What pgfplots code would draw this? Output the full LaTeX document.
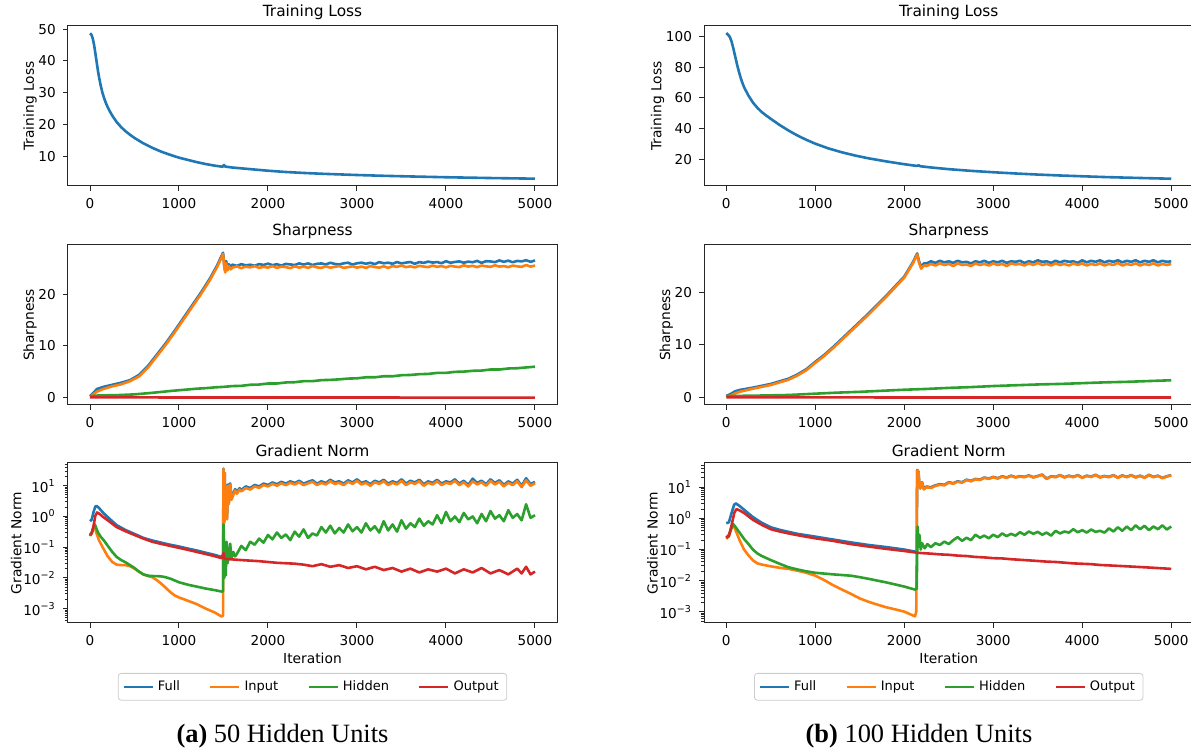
\documentclass[border=0pt]{standalone}
\usepackage{fontspec}
\setmainfont{DejaVu Sans}
\newfontfamily\capfont{Liberation Serif}
\usepackage{pgfplots}
\pgfplotsset{compat=1.18}
\definecolor{cA}{HTML}{1F77B4}
\definecolor{cB}{HTML}{FF7F0E}
\definecolor{cC}{HTML}{2CA02C}
\definecolor{cD}{HTML}{D62728}
\definecolor{lgray}{HTML}{CCCCCC}
\pgfplotsset{
  base/.style={
    scale only axis, width=244.75pt, height=80pt,
    xmin=-250, xmax=5250,
    xtick={0,1000,2000,3000,4000,5000},
    tick align=outside, tick pos=left,
    major tick length=2.5pt, minor tick length=1.4pt,
    axis line style={line width=0.5pt, black!85},
    every tick/.style={black!85, line width=0.5pt},
    ticklabel style={font=\fontsize{6.8}{8}\selectfont},
    /pgf/number format/assume math mode=true,
    /pgf/number format/1000 sep={},
    scaled y ticks=false,
    every axis title shift=-0.6pt,
    title style={font=\fontsize{7.7}{9}\selectfont},
    ylabel style={font=\fontsize{6.9}{8}\selectfont},
    ylabel shift=-6pt,
    xlabel style={font=\fontsize{6.9}{8}\selectfont, yshift=3pt},
    no markers,
    every axis plot/.append style={line width=1.3pt, line join=round},
  },
  gn/.style={
    base, ymin=3.4e-4, ymax=55,
    ytick={1e-3,1e-2,1e-1,1,10},
    yticklabels={10\textsuperscript{−3},10\textsuperscript{−2},10\textsuperscript{−1},10\textsuperscript{0},10\textsuperscript{1}},
    minor ytick={4e-4,5e-4,6e-4,7e-4,8e-4,9e-4,2e-3,3e-3,4e-3,5e-3,6e-3,7e-3,8e-3,9e-3,0.02,0.03,0.04,0.05,0.06,0.07,0.08,0.09,0.2,0.3,0.4,0.5,0.6,0.7,0.8,0.9,2,3,4,5,6,7,8,9,20,30,40,50},
    title={Gradient Norm}, ylabel={Gradient Norm}, xlabel={Iteration},
    legend columns=4,
    legend style={at={(0.5,-0.3125)}, anchor=north, draw=lgray, rounded corners=1.5pt,
      font=\fontsize{6.5}{7.5}\selectfont, inner xsep=2pt, inner ysep=1.5pt,
      /tikz/every even column/.append style={column sep=12.5pt}},
    legend image code/.code={\draw[#1, line width=1.3pt] (0pt,0pt) -- (14.5pt,0pt);},
  },
}
\begin{document}
\begin{tikzpicture}
\useasboundingbox (0,0) rectangle (595.5pt,-374pt);

% ================= LEFT: 50 hidden units =================
\begin{axis}[base, at={(33.875pt,-13pt)}, anchor=north west,
  ymin=0.7, ymax=51, ytick={10,20,30,40,50},
  title={Training Loss}, ylabel={Training Loss}]
\addplot[cA] coordinates {(0,48.7) (15,48.3) (30,47.2) (45,45.2) (60,42.5) (75,39.6) (90,36.8) (105,34.4) (120,32.3) (140,30.0) (160,28.2) (180,26.7) (200,25.4) (230,23.8) (260,22.4) (300,20.8) (350,19.2) (400,17.9) (450,16.8) (500,15.8) (600,14.1) (700,12.7) (800,11.5) (900,10.5) (1000,9.6) (1100,8.9) (1200,8.2) (1300,7.6) (1400,7.1) (1490,6.75) (1505,7.3) (1520,6.8) (1600,6.5) (1800,6.0) (2000,5.5) (2200,5.1) (2400,4.8) (2600,4.55) (2800,4.35) (3000,4.15) (3300,3.9) (3600,3.7) (4000,3.45) (4500,3.2) (5000,3.0)};
\end{axis}

\begin{axis}[base, at={(33.875pt,-122.5pt)}, anchor=north west,
  ymin=-1.4, ymax=29.5, ytick={0,10,20},
  title={Sharpness}, ylabel={Sharpness}]
\addplot[cA] coordinates {(0,0.3) (40,1.0) (80,1.7) (150,2.1) (250,2.5) (350,2.9) (450,3.4) (550,4.4) (650,6.1) (750,8.3) (850,10.5) (950,12.9) (1050,15.4) (1150,17.9) (1250,20.4) (1350,23.1) (1430,25.6) (1470,27.1) (1495,28.0) (1510,25.3) (1520,24.6) (1530,26.4) (1545,25.1) (1560,25.8) (1580,25.2)
(1600,25.71) (1650,25.47) (1700,25.80) (1750,25.57) (1800,25.69) (1850,25.49) (1900,25.81) (1950,25.65) (2000,25.90) (2050,25.60) (2100,25.79) (2150,25.52) (2200,25.85) (2250,25.75) (2300,25.62) (2350,25.95) (2400,25.72) (2450,25.94) (2500,25.64) (2550,25.86) (2600,25.94) (2650,25.74) (2700,26.07) (2750,25.84) (2800,25.74) (2850,25.96) (2900,26.08) (2950,25.71) (3000,25.97) (3050,26.08) (3100,25.88) (3150,26.07) (3200,25.80) (3250,26.20) (3300,25.97) (3350,26.08) (3400,25.88) (3450,26.21) (3500,25.94) (3550,26.10) (3600,26.21) (3650,25.87) (3700,26.20) (3750,26.04) (3800,26.30) (3850,26.10) (3900,26.21) (3950,25.98) (4000,26.37) (4050,26.07) (4100,26.22) (4150,26.34) (4200,26.07) (4250,26.29) (4300,26.17) (4350,26.43) (4400,26.05) (4450,26.38) (4500,26.32) (4550,26.19) (4600,26.52) (4650,26.25) (4700,26.47) (4750,26.17) (4800,26.42) (4850,26.33) (4900,26.56) (4950,26.25) (5000,26.51)};
\addplot[cB] coordinates {(0,0.2) (40,0.7) (80,1.2) (150,1.7) (250,2.2) (350,2.6) (450,3.2) (550,4.1) (650,5.8) (750,8.0) (850,10.2) (950,12.6) (1050,15.1) (1150,17.6) (1250,20.1) (1350,22.8) (1430,25.3) (1470,26.8) (1495,27.8) (1510,25.0) (1520,24.2) (1530,26.0) (1545,24.6) (1560,25.4) (1580,24.8)
(1600,25.13) (1650,25.38) (1700,25.03) (1750,25.33) (1800,25.18) (1850,25.43) (1900,25.08) (1950,25.28) (2000,25.13) (2050,25.43) (2100,25.08) (2150,25.33) (2200,25.23) (2250,25.03) (2300,25.38) (2350,25.13) (2400,25.33) (2450,25.08) (2500,25.43) (2550,25.18) (2600,25.08) (2650,25.38) (2700,25.13) (2750,25.28) (2800,25.43) (2850,25.08) (2900,25.23) (2950,25.38) (3000,25.13) (3050,25.33) (3100,25.08) (3150,25.43) (3200,25.23) (3250,25.13) (3300,25.38) (3350,25.08) (3400,25.43) (3450,25.28) (3500,25.53) (3550,25.23) (3600,25.38) (3650,25.18) (3700,25.48) (3750,25.33) (3800,25.23) (3850,25.53) (3900,25.28) (3950,25.43) (4000,25.18) (4050,25.48) (4100,25.33) (4150,25.23) (4200,25.58) (4250,25.33) (4300,25.48) (4350,25.23) (4400,25.53) (4450,25.38) (4500,25.28) (4550,25.58) (4600,25.33) (4650,25.43) (4700,25.23) (4750,25.53) (4800,25.38) (4850,25.28) (4900,25.63) (4950,25.33) (5000,25.53)};
\addplot[cC] coordinates {(0,0.3) (100,0.45) (300,0.5) (500,0.65) (700,0.95) (900,1.3) (1000,1.45) (1100,1.6) (1200,1.75) (1300,1.85) (1400,2.0) (1500,2.1) (1600,2.25) (1700,2.3) (1800,2.5) (1900,2.55) (2000,2.75) (2100,2.75) (2200,2.95) (2300,3.0) (2400,3.2) (2500,3.2) (2600,3.4) (2700,3.45) (2800,3.55) (2900,3.7) (3000,3.75) (3100,3.95) (3200,3.95) (3300,4.15) (3400,4.15) (3500,4.35) (3600,4.4) (3700,4.55) (3800,4.6) (3900,4.8) (4000,4.8) (4100,5.0) (4200,5.05) (4300,5.2) (4400,5.25) (4500,5.45) (4600,5.45) (4700,5.65) (4800,5.7) (4900,5.85) (5000,6.0)};
\addplot[cD] coordinates {(0,0.08) (1000,0.05) (3000,0.04) (5000,0.03)};
\end{axis}

\begin{semilogyaxis}[gn, at={(33.875pt,-231.5pt)}, anchor=north west]
\addplot[cA] coordinates {(0,0.7) (20,0.8) (40,1.4) (60,2.1) (75,2.2) (100,1.9) (150,1.3) (200,0.95) (250,0.7) (300,0.52) (400,0.36) (500,0.27) (600,0.2) (700,0.165) (800,0.14) (900,0.12) (1000,0.105) (1100,0.09) (1200,0.078) (1300,0.066) (1400,0.056) (1480,0.048) (1495,0.05) (1500,36) (1505,21) (1510,0.7) (1515,26) (1520,1.1) (1530,9) (1540,0.9) (1550,11) (1560,2.8) (1575,12) (1590,4) (1610,5.5) (1630,7.8) (1650,6.2) (1680,8.3) (1700,7.3) (1750,9.5) (1800,8.4) (1850,10.6) (1900,9.5) (1950,11.7) (2000,10.6) (2050,12.8) (2100,11.2) (2150,13.4) (2200,11.7) (2250,13.9) (2300,12.3) (2350,14.5) (2400,11.7) (2450,13.4) (2500,15) (2550,11.7) (2600,13.9) (2650,12.3) (2700,15.6) (2750,12.8) (2800,13.9) (2850,11.7) (2900,15) (2950,12.8) (3000,16.2) (3050,12.3) (3100,13.9) (3150,11.2) (3200,14.5) (3250,12.8) (3300,15.6) (3350,11.7) (3400,13.9) (3450,12.3) (3500,16.2) (3550,11.7) (3600,14.5) (3650,12.8) (3700,15.6) (3750,11.2) (3800,13.9) (3850,12.3) (3900,15.6) (3950,11.7) (4000,13.9) (4050,12.8) (4100,16.2) (4150,11.7) (4200,14.5) (4250,10.6) (4300,17) (4350,12.3) (4400,14.5) (4450,11.2) (4500,16.2) (4550,12.3) (4600,15) (4650,10.6) (4700,13.9) (4750,11.7) (4800,15.6) (4850,10) (4900,17.5) (4950,11.2) (5000,13.4)};
\addlegendentry{Full}
\addplot[cB] coordinates {(0,0.25) (20,0.3) (40,0.42) (55,0.45) (70,0.3) (100,0.17) (150,0.09) (200,0.05) (250,0.033) (300,0.027) (350,0.026) (400,0.026) (450,0.024) (500,0.02) (550,0.016) (600,0.013) (650,0.0115) (700,0.0105) (750,0.0085) (800,0.0065) (850,0.0048) (900,0.0035) (950,0.0027) (1000,0.0023) (1100,0.0018) (1200,0.0014) (1300,0.001) (1400,0.00075) (1480,0.00055) (1495,0.0006) (1500,35) (1505,20) (1510,0.6) (1515,25) (1520,1.0) (1530,8) (1540,0.8) (1550,10) (1560,2.5) (1575,11) (1590,3.5) (1610,5) (1630,7) (1650,5.5) (1680,7.5) (1700,6.5) (1750,8.5) (1800,7.5) (1850,9.5) (1900,8.5) (1950,10.5) (2000,9.5) (2050,11.5) (2100,10) (2150,12) (2200,10.5) (2250,12.5) (2300,11) (2350,13) (2400,10.5) (2450,12) (2500,13.5) (2550,10.5) (2600,12.5) (2650,11) (2700,14) (2750,11.5) (2800,12.5) (2850,10.5) (2900,13.5) (2950,11.5) (3000,14.5) (3050,11) (3100,12.5) (3150,10) (3200,13) (3250,11.5) (3300,14) (3350,10.5) (3400,12.5) (3450,11) (3500,14.5) (3550,10.5) (3600,13) (3650,11.5) (3700,14) (3750,10) (3800,12.5) (3850,11) (3900,14) (3950,10.5) (4000,12.5) (4050,11.5) (4100,14.5) (4150,10.5) (4200,13) (4250,9.5) (4300,14) (4350,11) (4400,13) (4450,10) (4500,14.5) (4550,11) (4600,13.5) (4650,9.5) (4700,12.5) (4750,10.5) (4800,14) (4850,9) (4900,15) (4950,10) (5000,12)};
\addlegendentry{Input}
\addplot[cC] coordinates {(0,0.23) (20,0.3) (40,0.45) (55,0.55) (70,0.42) (90,0.3) (120,0.22) (160,0.16) (200,0.11) (250,0.07) (300,0.048) (350,0.038) (400,0.032) (450,0.026) (500,0.021) (550,0.016) (600,0.013) (650,0.0118) (700,0.0115) (750,0.0114) (800,0.0112) (850,0.0105) (900,0.0095) (950,0.0083) (1000,0.0072) (1100,0.006) (1200,0.0052) (1300,0.0045) (1400,0.004) (1480,0.0036) (1495,0.0037) (1500,0.55) (1505,0.2) (1510,0.01) (1518,0.12) (1525,0.012) (1535,0.15) (1545,0.03) (1560,0.05) (1575,0.13) (1590,0.045) (1610,0.07) (1630,0.05) (1650,0.06) (1700,0.11) (1750,0.08) (1800,0.15) (1850,0.12) (1900,0.19) (1950,0.14) (2000,0.25) (2050,0.18) (2100,0.3) (2150,0.2) (2200,0.26) (2250,0.17) (2300,0.32) (2350,0.22) (2400,0.38) (2450,0.2) (2500,0.28) (2550,0.24) (2600,0.45) (2650,0.3) (2700,0.5) (2750,0.28) (2800,0.42) (2850,0.3) (2900,0.55) (2950,0.33) (3000,0.45) (3050,0.3) (3100,0.6) (3150,0.35) (3200,0.48) (3250,0.3) (3300,0.7) (3350,0.35) (3400,0.55) (3450,0.32) (3500,0.75) (3550,0.4) (3600,0.6) (3650,0.45) (3700,0.85) (3750,0.5) (3800,0.7) (3850,0.55) (3900,1.1) (3950,0.6) (4000,1.4) (4050,0.7) (4100,1.0) (4150,0.65) (4200,1.3) (4250,0.8) (4300,1.0) (4350,0.6) (4400,1.2) (4450,0.7) (4500,1.5) (4550,0.85) (4600,1.1) (4650,0.7) (4700,1.6) (4750,0.9) (4800,1.2) (4850,0.75) (4900,2.5) (4950,0.9) (5000,1.1)};
\addlegendentry{Hidden}
\addplot[cD] coordinates {(0,0.25) (20,0.28) (40,0.5) (60,1.05) (80,1.35) (110,1.2) (150,0.95) (200,0.75) (250,0.58) (300,0.45) (400,0.33) (500,0.25) (600,0.19) (700,0.15) (800,0.128) (900,0.11) (1000,0.095) (1100,0.082) (1200,0.07) (1300,0.06) (1400,0.051) (1480,0.044) (1500,0.065) (1510,0.042) (1550,0.041) (1700,0.038) (1900,0.035) (2100,0.031) (2300,0.029) (2400,0.027) (2500,0.024) (2600,0.028) (2700,0.023) (2800,0.026) (2900,0.021) (3000,0.024) (3100,0.019) (3200,0.023) (3300,0.018) (3400,0.021) (3500,0.016) (3600,0.02) (3700,0.015) (3800,0.019) (3900,0.016) (4000,0.02) (4100,0.014) (4200,0.019) (4300,0.015) (4400,0.021) (4500,0.014) (4600,0.018) (4700,0.013) (4800,0.02) (4850,0.014) (4900,0.023) (4950,0.013) (5000,0.016)};
\addlegendentry{Output}
\end{semilogyaxis}

% ================= RIGHT: 100 hidden units =================
\begin{axis}[base, at={(352pt,-13pt)}, anchor=north west,
  ymin=3.0, ymax=106.6, ytick={20,40,60,80,100},
  title={Training Loss}, ylabel={Training Loss}]
\addplot[cA] coordinates {(0,102) (20,101) (40,99.5) (60,96.5) (80,92) (100,87) (120,82) (140,77.5) (160,73.5) (180,70) (200,67) (250,61.5) (300,57) (350,53.6) (400,50.8) (450,48.6) (500,46.5) (600,42.5) (700,38.9) (800,35.7) (900,32.9) (1000,30.4) (1150,27.3) (1300,24.8) (1450,22.7) (1600,20.9) (1800,18.9) (2000,17.1) (2140,16.0) (2160,16.4) (2180,15.8) (2300,15.0) (2500,13.9) (2750,12.8) (3000,11.9) (3250,11.1) (3500,10.4) (3750,9.8) (4000,9.3) (4250,8.8) (4500,8.4) (4750,8.05) (5000,7.7)};
\end{axis}

\begin{axis}[base, at={(352pt,-122.5pt)}, anchor=north west,
  ymin=-1.4, ymax=29.0, ytick={0,10,20},
  title={Sharpness}, ylabel={Sharpness}]
\addplot[cA] coordinates {(0,0.3) (50,0.7) (100,1.2) (150,1.45) (300,1.9) (500,2.6) (700,3.6) (800,4.4) (900,5.4) (1000,6.8) (1100,8.1) (1200,9.6) (1400,12.8) (1600,16.0) (1800,19.4) (2000,23.0) (2100,25.8) (2145,27.4) (2165,26.0) (2190,24.8) (2220,25.5)
(2250,25.5) (2300,25.9) (2350,25.6) (2400,26.0) (2450,25.7) (2500,25.9) (2550,25.6) (2600,26.0) (2650,25.7) (2700,25.8) (2750,25.5) (2800,25.9) (2850,25.7) (2900,26.0) (2950,25.6) (3000,25.9) (3050,25.7) (3100,26.0) (3150,25.6) (3200,25.9) (3250,25.8) (3300,26.0) (3350,25.6) (3400,25.9) (3450,25.7) (3500,26.1) (3550,25.8) (3600,25.9) (3650,25.6) (3700,26.0) (3750,25.7) (3800,26.0) (3850,25.8) (3900,25.9) (3950,25.6) (4000,26.1) (4050,25.7) (4100,26.0) (4150,25.8) (4200,26.1) (4250,25.7) (4300,26.0) (4350,25.8) (4400,26.1) (4450,25.7) (4500,26.0) (4550,25.8) (4600,26.1) (4650,25.7) (4700,26.0) (4750,25.8) (4800,26.1) (4850,25.7) (4900,26.0) (4950,25.8) (5000,25.9)};
\addplot[cB] coordinates {(0,0.2) (50,0.4) (100,0.8) (150,1.1) (300,1.7) (500,2.4) (700,3.4) (800,4.2) (900,5.2) (1000,6.6) (1100,7.9) (1200,9.4) (1400,12.6) (1600,15.8) (1800,19.2) (2000,22.8) (2100,25.6) (2145,27.2) (2165,25.7) (2190,24.5) (2220,25.1)
(2250,25.0) (2300,25.4) (2350,25.1) (2400,25.5) (2450,25.2) (2500,25.4) (2550,25.0) (2600,25.5) (2650,25.2) (2700,25.3) (2750,25.0) (2800,25.5) (2850,25.2) (2900,25.4) (2950,25.1) (3000,25.5) (3050,25.2) (3100,25.4) (3150,25.0) (3200,25.5) (3250,25.3) (3300,25.4) (3350,25.1) (3400,25.5) (3450,25.2) (3500,25.6) (3550,25.2) (3600,25.4) (3650,25.1) (3700,25.5) (3750,25.2) (3800,25.4) (3850,25.1) (3900,25.5) (3950,25.2) (4000,25.5) (4050,25.1) (4100,25.4) (4150,25.2) (4200,25.5) (4250,25.1) (4300,25.4) (4350,25.2) (4400,25.6) (4450,25.1) (4500,25.4) (4550,25.2) (4600,25.5) (4650,25.1) (4700,25.4) (4750,25.2) (4800,25.5) (4850,25.1) (4900,25.4) (4950,25.2) (5000,25.4)};
\addplot[cC] coordinates {(0,0.3) (200,0.35) (400,0.4) (700,0.5) (1000,0.75) (1250,0.95) (1500,1.1) (1750,1.3) (2000,1.5) (2250,1.65) (2500,1.85) (2750,2.0) (3000,2.2) (3250,2.35) (3500,2.5) (3750,2.6) (4000,2.75) (4250,2.9) (4500,3.0) (4750,3.15) (5000,3.3)};
\addplot[cD] coordinates {(0,0.05) (2000,0.03) (5000,0.02)};
\end{axis}

\begin{semilogyaxis}[gn, at={(352pt,-231.5pt)}, anchor=north west, ymin=4.4e-4, ymax=60]
\addplot[cA] coordinates {(0,0.7) (30,0.75) (60,1.5) (90,2.8) (110,3.0) (150,2.5) (200,1.9) (300,1.1) (400,0.72) (500,0.52) (600,0.43) (700,0.37) (800,0.32) (1000,0.26) (1200,0.21) (1400,0.17) (1600,0.14) (1800,0.12) (2000,0.1) (2120,0.086) (2140,0.09) (2145,36) (2160,31) (2170,12.5) (2180,9.5) (2200,14.5) (2220,9) (2250,10.5) (2300,10) (2350,11.5) (2400,12.5) (2450,12) (2500,14.5) (2550,13.5) (2600,15.5) (2650,14.5) (2700,17.5) (2750,16) (2800,18.5) (2850,17.5) (2900,20.5) (2950,19) (3000,21.5) (3050,19.5) (3100,22.5) (3150,20.5) (3200,23.5) (3250,21) (3300,22.5) (3350,21.5) (3400,24) (3450,21) (3500,23) (3550,25.5) (3600,19) (3650,22.5) (3700,21.5) (3750,24.5) (3800,21) (3850,23.5) (3900,21.5) (3950,24.5) (4000,20.5) (4050,23.5) (4100,22) (4150,25) (4200,21) (4250,23) (4300,21.5) (4350,24.5) (4400,20.5) (4450,24) (4500,21.5) (4550,24.5) (4600,21) (4650,23.5) (4700,20.5) (4750,25) (4800,21.5) (4850,23.5) (4900,20) (4950,22.5) (5000,24.5)};
\addlegendentry{Full}
\addplot[cB] coordinates {(0,0.22) (30,0.27) (60,0.5) (80,0.6) (100,0.45) (150,0.2) (200,0.1) (250,0.065) (300,0.045) (350,0.036) (400,0.033) (500,0.029) (600,0.026) (700,0.024) (800,0.021) (900,0.018) (1000,0.0145) (1100,0.0105) (1200,0.0072) (1300,0.0052) (1400,0.0038) (1500,0.0027) (1600,0.0021) (1700,0.0017) (1800,0.0014) (1900,0.0012) (2000,0.00102) (2120,0.00072) (2135,0.001) (2145,35) (2160,30) (2170,12) (2180,9) (2200,14) (2220,8.5) (2250,10) (2300,9.5) (2350,11) (2400,12) (2450,11.5) (2500,14) (2550,13) (2600,15) (2650,14) (2700,17) (2750,15.5) (2800,18) (2850,17) (2900,20) (2950,18.5) (3000,21) (3050,19) (3100,22) (3150,20) (3200,23) (3250,20.5) (3300,22) (3350,21) (3400,23.5) (3450,20.5) (3500,22.5) (3550,25) (3600,18.5) (3650,22) (3700,21) (3750,24) (3800,20.5) (3850,23) (3900,21) (3950,24) (4000,20) (4050,23) (4100,21.5) (4150,24.5) (4200,20.5) (4250,22.5) (4300,21) (4350,24) (4400,20) (4450,23.5) (4500,21) (4550,24) (4600,20.5) (4650,23) (4700,20) (4750,24.5) (4800,21) (4850,23) (4900,19.5) (4950,22) (5000,24)};
\addlegendentry{Input}
\addplot[cC] coordinates {(0,0.24) (30,0.3) (60,0.5) (80,0.65) (100,0.55) (150,0.35) (200,0.22) (250,0.15) (300,0.1) (350,0.075) (400,0.062) (500,0.046) (600,0.035) (700,0.027) (800,0.023) (900,0.02) (1000,0.018) (1200,0.016) (1400,0.0145) (1500,0.013) (1600,0.0115) (1800,0.0088) (2000,0.0065) (2120,0.0052) (2140,0.0055) (2150,0.55) (2160,0.12) (2170,0.3) (2185,0.1) (2200,0.16) (2230,0.11) (2260,0.15) (2300,0.12) (2350,0.16) (2400,0.14) (2450,0.18) (2500,0.15) (2550,0.2) (2600,0.25) (2650,0.19) (2700,0.24) (2750,0.2) (2800,0.3) (2850,0.24) (2900,0.28) (2950,0.23) (3000,0.3) (3050,0.25) (3100,0.33) (3150,0.27) (3200,0.32) (3250,0.28) (3300,0.36) (3350,0.3) (3400,0.38) (3450,0.32) (3500,0.37) (3550,0.3) (3600,0.35) (3650,0.28) (3700,0.4) (3750,0.33) (3800,0.38) (3850,0.35) (3900,0.45) (3950,0.36) (4000,0.42) (4050,0.35) (4100,0.44) (4150,0.37) (4200,0.4) (4250,0.35) (4300,0.48) (4350,0.38) (4400,0.52) (4450,0.4) (4500,0.55) (4550,0.42) (4600,0.6) (4650,0.45) (4700,0.58) (4750,0.42) (4800,0.55) (4850,0.45) (4900,0.6) (4950,0.44) (5000,0.55)};
\addlegendentry{Hidden}
\addplot[cD] coordinates {(0,0.24) (30,0.27) (60,0.6) (90,1.5) (115,2.0) (150,1.8) (200,1.5) (300,0.9) (400,0.62) (500,0.45) (600,0.38) (700,0.33) (800,0.29) (1000,0.23) (1200,0.19) (1400,0.15) (1600,0.125) (1800,0.105) (2000,0.09) (2150,0.079) (2200,0.077) (2300,0.074) (2400,0.07) (2500,0.068) (2600,0.064) (2700,0.062) (2800,0.058) (2900,0.056) (3000,0.053) (3100,0.052) (3200,0.049) (3300,0.047) (3400,0.045) (3500,0.043) (3600,0.041) (3700,0.04) (3800,0.038) (3900,0.036) (4000,0.035) (4100,0.034) (4200,0.032) (4300,0.031) (4400,0.03) (4500,0.029) (4600,0.028) (4700,0.027) (4800,0.026) (4900,0.025) (5000,0.024)};
\addlegendentry{Output}
\end{semilogyaxis}

\node[anchor=base, font=\capfont\fontsize{13.2}{15}\selectfont] at (141.25pt,-371.5pt) {\textbf{(a)} 50 Hidden Units};
\node[anchor=base, font=\capfont\fontsize{13.2}{15}\selectfont] at (459.5pt,-371.5pt) {\textbf{(b)} 100 Hidden Units};
\end{tikzpicture}
\end{document}
